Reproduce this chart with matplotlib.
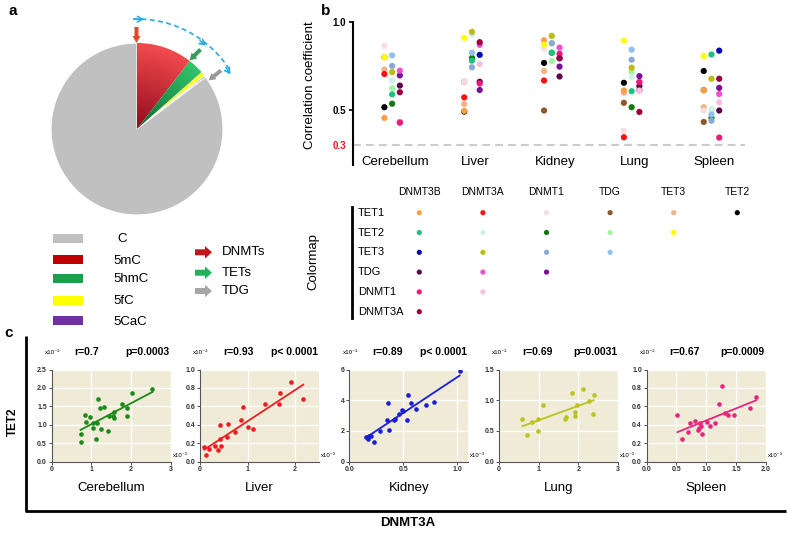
import numpy as np
import matplotlib.pyplot as plt
from matplotlib import patches
from matplotlib.colors import LinearSegmentedColormap

plt.rcParams['font.family'] = ['Liberation Sans', 'DejaVu Sans']

W, H = 787, 533

# ---------------- panel a : pie of cytosine forms ----------------
pie_labels = ['C', '5mC', '5hmC', '5fC', '5CaC']
pie_values = [85.3, 10.5, 3.0, 0.9, 0.3]
pie_colors = ['#c0c0c0', '#c00000', '#1e9e4a', '#ffff00', '#7030a0']
enzyme_labels = ['DNMTs', 'TETs', 'TDG']
enzyme_colors = ['#c0161c', '#22b35a', '#a6a6a6']

# ---------------- panel b : correlation coefficients ----------------
genes = ['TET1', 'TET2', 'TET3', 'TDG', 'DNMT1', 'DNMT3A', 'DNMT3B']
# one colour per gene pair, pairs in order (TET1-TET2, TET1-TET3, ... DNMT3A-DNMT3B)
pair_colors = ['#000000', '#f0b482', '#8c5a28', '#f6dde2', '#ff1010', '#f8a048',
               '#ffff00', '#a0f5a0', '#107a10', '#d2f0ea', '#20c080',
               '#90c0f0', '#8ca8d4', '#bdbd10', '#0808b0',
               '#781098', '#f050d0', '#5c0848',
               '#f8c0dc', '#f01878',
               '#980040']
tissues = ['Cerebellum', 'Liver', 'Kidney', 'Lung', 'Spleen']
corr_cerebellum = [0.515, 0.73, 0.80, 0.865, 0.704, 0.454, 0.80,
                   0.623, 0.535, 0.665, 0.588, 0.81, 0.75, 0.715,
                   0.43, 0.696, 0.723, 0.638, 0.43, 0.427, 0.60]
corr_liver = [0.49, 0.533, 0.66, 0.66, 0.571, 0.494, 0.91,
              0.79, 0.796, 0.93, 0.78, 0.825, 0.742, 0.944,
              0.813, 0.613, 0.87, 0.66, 0.76, 0.65, 0.885]
corr_kidney = [0.767, 0.721, 0.496, 0.848, 0.667, 0.896, 0.871,
               0.777, 0.825, 0.92, 0.825, 0.879, 0.879, 0.921,
               0.794, 0.746, 0.854, 0.69, 0.819, 0.819, 0.794]
corr_lung = [0.654, 0.598, 0.54, 0.381, 0.344, 0.61, 0.894,
             0.717, 0.515, 0.688, 0.606, 0.842, 0.785, 0.74,
             0.612, 0.692, 0.658, 0.635, 0.61, 0.658, 0.488]
corr_spleen = [0.721, 0.515, 0.431, 0.496, 0.612, 0.612, 0.806,
               0.50, 0.454, 0.505, 0.815, 0.473, 0.438, 0.677,
               0.837, 0.625, 0.59, 0.496, 0.542, 0.342, 0.677]
corr_all = [corr_cerebellum, corr_liver, corr_kidney, corr_lung, corr_spleen]

# ---------------- panel c : TET2 vs DNMT3A ----------------
cer_x = [0.73, 0.75, 0.83, 0.87, 0.96, 1.03, 1.05, 1.13, 1.12, 1.16, 1.22, 1.31,
         1.25, 1.41, 1.45, 1.55, 1.56, 1.57, 1.76, 1.89, 1.89, 2.02, 2.54]
cer_y = [0.74, 0.52, 1.27, 1.07, 1.21, 1.05, 0.92, 1.05, 0.62, 1.71, 1.45, 1.48,
         0.89, 0.84, 1.23, 1.23, 1.35, 1.19, 1.55, 1.45, 1.25, 1.86, 1.96]
liver_x = [0.09, 0.13, 0.18, 0.31, 0.37, 0.41, 0.42, 0.45, 0.57, 0.58, 0.73, 0.86,
           0.90, 1.00, 1.11, 1.375, 1.65, 1.69, 1.92, 2.17]
liver_y = [0.156, 0.073, 0.131, 0.164, 0.12, 0.24, 0.393, 0.167, 0.262, 0.404, 0.316, 0.447,
           0.593, 0.375, 0.353, 0.62, 0.62, 0.74, 0.86, 0.676]
kidney_x = [0.155, 0.17, 0.18, 0.20, 0.226, 0.284, 0.35, 0.355, 0.365, 0.417, 0.42,
            0.46, 0.485, 0.50, 0.534, 0.54, 0.57, 0.615, 0.713, 0.784, 1.02]
kidney_y = [1.59, 1.48, 1.66, 1.68, 1.28, 2.0, 2.72, 3.82, 2.03, 2.68, 2.78,
            3.12, 3.38, 3.27, 2.68, 4.36, 3.80, 3.44, 3.71, 3.88, 5.89]
lung_x = [0.59, 0.70, 0.83, 0.99, 0.99, 1.10, 1.66, 1.68, 1.84, 1.91, 1.91, 1.97,
          2.13, 2.26, 2.37, 2.39]
lung_y = [0.70, 0.44, 0.65, 0.69, 0.505, 0.92, 0.70, 0.73, 1.115, 0.81, 0.75, 0.92,
          1.18, 0.98, 0.77, 1.09]
spleen_x = [0.515, 0.60, 0.69, 0.73, 0.81, 0.86, 0.88, 0.90, 0.91, 0.935, 1.01, 1.06,
            1.15, 1.22, 1.26, 1.32, 1.36, 1.47, 1.74, 1.84]
spleen_y = [0.505, 0.25, 0.32, 0.42, 0.44, 0.34, 0.36, 0.42, 0.39, 0.30, 0.43, 0.39,
            0.415, 0.62, 0.82, 0.53, 0.51, 0.505, 0.577, 0.70]
scatter_x = [cer_x, liver_x, kidney_x, lung_x, spleen_x]
scatter_y = [cer_y, liver_y, kidney_y, lung_y, spleen_y]
scatter_colors = ['#1b8a1b', '#ee1d23', '#1c1cd8', '#bcc21e', '#e6257f']
r_text = ['r=0.7', 'r=0.93', 'r=0.89', 'r=0.69', 'r=0.67']
p_text = ['p=0.0003', 'p< 0.0001', 'p< 0.0001', 'p=0.0031', 'p=0.0009']
x_lims = [3, 2.5, 1.1, 3, 2.0]
y_lims = [2.5, 1.0, 6, 1.5, 1.0]
x_ticks = [[0, 1, 2, 3], [0, 1, 2], [0, 0.5, 1.0], [0, 1, 2, 3], [0, 0.5, 1.0, 1.5, 2.0]]
y_ticks = [[0, 0.5, 1.0, 1.5, 2.0, 2.5], [0, 0.2, 0.4, 0.6, 0.8, 1.0], [0, 2, 4, 6],
           [0, 0.5, 1.0, 1.5], [0, 0.2, 0.4, 0.6, 0.8, 1.0]]
x_fmt = ['{:.0f}', '{:.0f}', '{:.1f}', '{:.0f}', '{:.1f}']
y_fmt = ['{:.1f}', '{:.1f}', '{:.0f}', '{:.1f}', '{:.1f}']


fig = plt.figure(figsize=(W / 100, H / 100), dpi=100)


def px_axes(left, top, width, height):
    # axes placed with pixel values measured from the top-left corner
    return fig.add_axes([left / W, 1 - (top + height) / H, width / W, height / H])


# ---- a : pie (clockwise from 12 o'clock: 5mC, 5hmC, 5fC, 5CaC, C)
ax_pie = px_axes(51, 43, 172, 172)
order = [1, 2, 3, 4, 0]
wedges, _ = ax_pie.pie([pie_values[i] for i in order],
                       colors=[pie_colors[i] for i in order],
                       startangle=90, counterclock=False,
                       wedgeprops=dict(edgecolor='white', linewidth=0.8))
wedges[3].set_facecolor('#2b2a78')
# shaded red / green wedges, darker toward the centre
gx, gy = np.meshgrid(np.linspace(-1, 1, 300), np.linspace(-1, 1, 300))
rad = np.sqrt(gx ** 2 + gy ** 2)
for w, cols in [(wedges[0], ['#8e0c1c', '#f24a4e']), (wedges[1], ['#0c6a36', '#34c46a'])]:
    cm = LinearSegmentedColormap.from_list('g', cols)
    im = ax_pie.imshow(rad, extent=(-1, 1, -1, 1), origin='lower', cmap=cm,
                       vmin=0, vmax=1, zorder=w.get_zorder() + 0.1)
    im.set_clip_path(w)
ax_pie.set_xlim(-1, 1)
ax_pie.set_ylim(-1, 1)
ax_pie.set_aspect('equal')
ax_pie.axis('off')

# ---- b : correlation dots
ax_b = px_axes(353, 22, 392, 143)
for k, vals in enumerate(corr_all):
    xs = [k + (i // 7 - 1) * 0.097 for i in range(len(vals))]
    ax_b.scatter(xs, vals, c=pair_colors, s=20, linewidths=0, zorder=3)
ax_b.axhline(0.3, color='#cccccc', lw=1.5, ls=(0, (3.8, 2.4)), zorder=1)
ax_b.set_xlim(-0.49, 4.42)
ax_b.set_ylim(0.186, 1.0)
for s in ['top', 'right', 'bottom']:
    ax_b.spines[s].set_visible(False)
ax_b.spines['left'].set_linewidth(1.5)
ax_b.set_xticks([])
ax_b.set_yticks([0.3, 0.5, 1.0])
ax_b.set_yticklabels(['0.3', '0.5', '1.0'], fontsize=7, fontweight='bold')
ax_b.get_yticklabels()[0].set_color('#e8161e')
ax_b.tick_params(axis='y', length=3, width=1.2, pad=2)
ax_b.yaxis.get_major_ticks()[0].tick1line.set_visible(False)
for k, t in enumerate(tissues):
    ax_b.text(k + 0.038, 0.203, t, ha='center', va='center', fontsize=9.5)

# ---- c : scatter plots
lefts = [51.7, 200, 349.3, 499, 646.7]
for k in range(5):
    ax = px_axes(lefts[k], 369.5, 119, 92)
    ax.set_facecolor('#efebd6')
    xs = np.array(scatter_x[k])
    ys = np.array(scatter_y[k])
    ax.scatter(xs, ys, s=11, color=scatter_colors[k], linewidths=0, zorder=3)
    slope, icpt = np.polyfit(xs, ys, 1)
    xl = np.array([xs.min(), xs.max()])
    ax.plot(xl, slope * xl + icpt, color=scatter_colors[k], lw=1.3, zorder=2)
    ax.set_xlim(0, x_lims[k])
    ax.set_ylim(0, y_lims[k])
    ax.set_xticks(x_ticks[k])
    ax.set_xticklabels([x_fmt[k].format(v) for v in x_ticks[k]], fontsize=5, fontweight='bold')
    ax.set_yticks(y_ticks[k])
    ax.set_yticklabels([y_fmt[k].format(v) for v in y_ticks[k]], fontsize=5, fontweight='bold')
    ax.grid(color='white', lw=1)
    ax.set_axisbelow(True)
    ax.spines['top'].set_visible(False)
    ax.spines['right'].set_visible(False)
    for s in ['left', 'bottom']:
        ax.spines[s].set_color('#555555')
        ax.spines[s].set_linewidth(0.8)
    ax.tick_params(length=2, width=0.6, pad=1.5, colors='#333333')

# ---- overlay for texts, legends, arrows and frames (pixel coordinates)
ov = fig.add_axes([0, 0, 1, 1])
ov.set_xlim(0, W)
ov.set_ylim(H, 0)
ov.axis('off')
ov.patch.set_alpha(0)

# panel letters
ov.text(13, 11, 'a', fontsize=11, fontweight='bold', ha='center', va='center')
ov.text(326, 11, 'b', fontsize=11, fontweight='bold', ha='center', va='center')
ov.text(9, 333, 'c', fontsize=11, fontweight='bold', ha='center', va='center')

# arrows pointing at the pie
ov.add_patch(patches.FancyArrow(136.5, 27, 0, 16, width=4, head_width=8, head_length=7,
                                length_includes_head=True, color='#e4462c', lw=0))
ov.add_patch(patches.FancyArrow(200.5, 49.5, -11, 11, width=4, head_width=8, head_length=7,
                                length_includes_head=True, color='#3a9a5c', lw=0))
ov.add_patch(patches.FancyArrow(221, 70.5, -12.5, 10, width=4, head_width=8, head_length=7,
                                length_includes_head=True, color='#9a9a9a', lw=0))
# dashed blue arc with arrow heads
ov.add_patch(patches.Arc((137, 129), 220, 220, theta1=268, theta2=327,
                         color='#29abe2', lw=1.2, ls=(0, (3, 2))))
for (x0, y0), (x1, y1) in [((134, 19), (144, 19.4)),
                           ((200, 40.8), (206, 45.5)),
                           ((226, 67.5), (230.5, 74.5))]:
    ov.annotate('', xy=(x1, y1), xytext=(x0, y0),
                arrowprops=dict(arrowstyle='->,head_length=0.35,head_width=0.2',
                                color='#29abe2', lw=1.2, shrinkA=0, shrinkB=0))

# pie legend
leg_y = [238.3, 259.5, 278, 300, 320.7]
leg_tx = [117, 113, 113, 113, 113]
for i in range(5):
    ov.add_patch(patches.Rectangle((53.3, leg_y[i] - 4.5), 30, 9, color=pie_colors[i], lw=0))
    ov.text(leg_tx[i], leg_y[i] + 1, pie_labels[i], fontsize=9.5, va='center')
arr_y = [252.3, 272.7, 291]
for i in range(3):
    ov.add_patch(patches.FancyArrow(195, arr_y[i], 17, 0, width=6, head_width=12.5, head_length=7,
                                    length_includes_head=True, color=enzyme_colors[i], lw=0))
    ov.text(222, arr_y[i], enzyme_labels[i], fontsize=9.5, va='center')

# panel b y label
ov.text(310, 85, 'Correlation coefficient', rotation=90, ha='center', va='center', fontsize=9.5)

# colormap key
col_genes = genes[::-1][:6]
row_genes = genes[:6]
col_x = [419.3 + 63.6 * j for j in range(6)]
row_y = [212.7 + 19.8 * i for i in range(6)]
for j, g in enumerate(col_genes):
    ov.text(col_x[j], 191.7, g, ha='center', va='center', fontsize=7.5)
for i, g in enumerate(row_genes):
    ov.text(358, row_y[i], g, ha='left', va='center', fontsize=8)
key_x, key_y = [], []
for i in range(len(genes)):
    for j in range(i + 1, len(genes)):
        key_x.append(col_x[len(genes) - 1 - j])
        key_y.append(row_y[i])
ov.scatter(key_x, key_y, c=pair_colors, s=14, linewidths=0)
ov.plot([352, 352], [206.7, 318], color='black', lw=2)
ov.text(313, 262, 'Colormap', rotation=90, ha='center', va='center', fontsize=9.5)

# panel c frame and labels
ov.plot([26, 26], [336, 511], color='black', lw=2, solid_capstyle='butt')
ov.plot([25, 786], [511, 511], color='black', lw=2, solid_capstyle='butt')
ov.text(13, 422, 'TET2', rotation=90, ha='center', va='center', fontsize=8.5, fontweight='bold')
ov.text(408, 523, 'DNMT3A', ha='center', va='center', fontsize=9.5, fontweight='bold')
for k in range(5):
    left = lefts[k]
    ov.text(left + 23, 352, r_text[k], ha='left', va='center', fontsize=7.5, fontweight='bold')
    ov.text(left + 118, 352, p_text[k], ha='right', va='center', fontsize=7.5, fontweight='bold')
    ov.text(left + 59.5, 488, tissues[k], ha='center', va='center', fontsize=9.5)
    ov.text(left + 1, 352, 'x10\u207b\u00b2', ha='center', va='center', fontsize=4.5)
    # x multiplier sits just above the neighbouring panel's "0.0" label
    ov.text(left + 121, 455.5, 'x10\u207b\u00b3', ha='left', va='center', fontsize=4.3)

fig.savefig('out.png', dpi=100)
